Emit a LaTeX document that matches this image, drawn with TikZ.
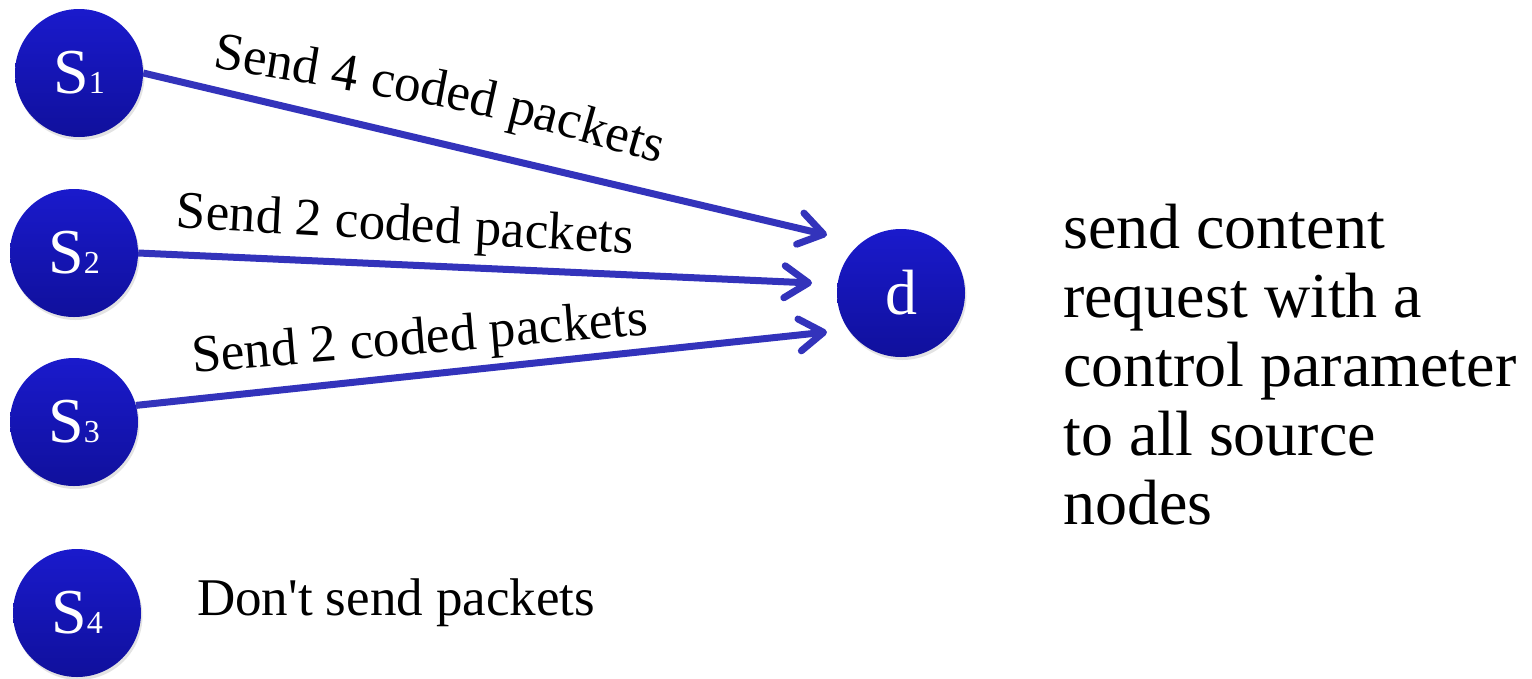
\documentclass[tikz,border=0pt]{standalone}
\usepackage{fontspec}
\setmainfont{Liberation Serif}
\newfontfamily\timesfont{Liberation Serif}
\usetikzlibrary{arrows.meta,shadows,decorations.text}
\definecolor{nodetop}{HTML}{1A1ACC}
\definecolor{nodebot}{HTML}{10109C}
\definecolor{arrowblue}{HTML}{3333BB}
\tikzset{
  netnode/.style={circle, minimum size=128pt, inner sep=0pt, top color=nodetop, bottom color=nodebot, draw=none, text=white,
    drop shadow={opacity=0.22, shadow xshift=1.5pt, shadow yshift=-3pt}},
  sendarrow/.style={draw=arrowblue, line width=7pt, -{Straight Barb[length=24pt,width=32pt,round]}},
  lbl/.style={inner sep=0pt, font=\timesfont\fontsize{53}{60}\selectfont},
}
\newcommand{\nodename}[2]{{\timesfont\fontsize{64}{64}\selectfont #1}{\timesfont\fontsize{32}{32}\selectfont #2}}
\begin{document}
\begin{tikzpicture}[x=1pt,y=-1pt]
\useasboundingbox (0,0) rectangle (1532,678);
\node[netnode] (s1) at (79,73) {\nodename{S}{1}};
\node[netnode] (s2) at (74,253) {\nodename{S}{2}};
\node[netnode] (s3) at (74,422) {\nodename{S}{3}};
\node[netnode] (s4) at (77,613) {\nodename{S}{4}};
\node[netnode] (d) at (901,293) {\timesfont\fontsize{64}{64}\selectfont d};
\coordinate (t1) at (827,235);
\coordinate (t2) at (812,283);
\coordinate (t3) at (827,332);
\draw[sendarrow] (s1.east) -- (t1);
\draw[sendarrow] (s2.east) -- (t2);
\draw[sendarrow] (s3.15) -- (t3);
\coordinate (l1a) at (200,66);
\coordinate (l1c) at (481,112);
\coordinate (l1b) at (671,167);
\path[decorate, decoration={text along path, text align=center,
  text={|\timesfont\fontsize{53}{60}\selectfont|Send 4 coded packets}}] (l1a) .. controls (l1c) .. (l1b);
\node[lbl, rotate=-3.2] (l2) at (405,228) {Send 2 coded packets};
\node[lbl, rotate=4.8] (l3) at (420,341) {Send 2 coded packets};
\node[lbl, anchor=base west] (l4) at (197,615) {Don\textquotesingle t send packets};
\node[inner sep=0pt, anchor=north west, align=left, font=\timesfont\fontsize{64}{69}\selectfont] (req) at (1063,204)
  {send content\\request with a\\control parameter\\to all source\\nodes};
\end{tikzpicture}
\end{document}
